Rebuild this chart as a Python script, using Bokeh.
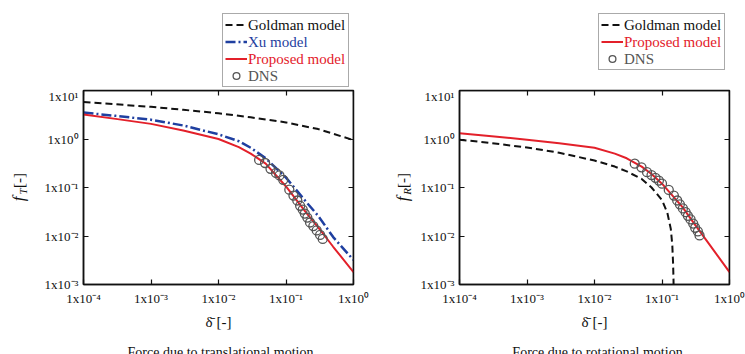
import math
from bokeh.plotting import figure
from bokeh.layouts import row, column
from bokeh.models import Legend, LegendItem, LogAxis, FixedTicker, Label, Range1d
from bokeh.embed import file_html
from bokeh.resources import INLINE

# ---------------- data ----------------
x_ticks = [1e-4, 1e-3, 1e-2, 1e-1, 1.0]
x_tick_labels = ["1x10⁻⁴", "1x10⁻³", "1x10⁻²", "1x10⁻¹", "1x10⁰"]
y_ticks = [1e-3, 1e-2, 1e-1, 1.0, 10.0]
y_tick_labels = ["1x10⁻³", "1x10⁻²", "1x10⁻¹", "1x10⁰", "1x10¹"]

# translational
goldman_T_x = [1e-4, 3e-4, 1e-3, 3e-3, 1e-2, 3e-2, 1e-1, 3e-1, 1.0]
goldman_T_y = [5.8, 5.2, 4.6, 4.0, 3.4, 2.8, 2.2, 1.6, 0.95]
xu_T_x = [1e-4, 3e-4, 1e-3, 3e-3, 1e-2, 2e-2, 3e-2, 5e-2, 1e-1, 2e-1, 3e-1, 5e-1, 1.0]
xu_T_y = [3.5, 3.0, 2.5, 1.9, 1.25, 0.9, 0.66, 0.4, 0.16, 0.05, 0.026, 0.0095, 0.0032]
prop_T_x = [1e-4, 3e-4, 1e-3, 3e-3, 1e-2, 2e-2, 3e-2, 5e-2, 1e-1, 2e-1, 3e-1, 5e-1, 1.0]
prop_T_y = [3.2, 2.6, 2.05, 1.5, 1.0, 0.68, 0.5, 0.31, 0.105, 0.03, 0.015, 0.006, 0.0018]
dns_T_x = [0.040, 0.049, 0.059, 0.071, 0.080, 0.091, 0.112, 0.129, 0.147, 0.162, 0.177,
           0.19, 0.207, 0.227, 0.254, 0.285, 0.32, 0.35]
dns_T_y = [0.37, 0.32, 0.243, 0.20, 0.177, 0.144, 0.09, 0.068, 0.054, 0.042, 0.035,
           0.029, 0.024, 0.019, 0.016, 0.013, 0.0105, 0.0087]

# rotational
goldman_R_x = [1e-4, 3e-4, 1e-3, 3e-3, 1e-2, 2e-2, 3e-2, 5e-2, 7e-2, 1e-1, 1.2e-1,
               1.35e-1, 1.42e-1, 1.46e-1, 1.48e-1, 1.49e-1, 1.495e-1]
goldman_R_y = [0.97, 0.82, 0.67, 0.52, 0.36, 0.27, 0.215, 0.15, 0.10, 0.055, 0.030,
               0.014, 0.0066, 0.0027, 0.0013, 0.0007, 0.0003]
prop_R_x = [1e-4, 3e-4, 1e-3, 3e-3, 1e-2, 2e-2, 3e-2, 5e-2, 7e-2, 1e-1, 2e-1, 3e-1, 5e-1, 1.0]
prop_R_y = [1.32, 1.14, 0.97, 0.82, 0.66, 0.5, 0.4, 0.27, 0.19, 0.12, 0.04, 0.018, 0.0068, 0.0018]
dns_R_x = [0.0395, 0.0497, 0.060, 0.070, 0.080, 0.090, 0.10, 0.126, 0.15, 0.168, 0.184,
           0.204, 0.224, 0.242, 0.265, 0.29, 0.31, 0.34, 0.36]
dns_R_y = [0.31, 0.26, 0.207, 0.18, 0.158, 0.139, 0.12, 0.089, 0.068, 0.054, 0.045,
           0.037, 0.031, 0.026, 0.022, 0.018, 0.0148, 0.0124, 0.0103]

series_T = {"Goldman model": (goldman_T_x, goldman_T_y), "Xu model": (xu_T_x, xu_T_y),
            "Proposed model": (prop_T_x, prop_T_y), "DNS": (dns_T_x, dns_T_y)}
series_R = {"Goldman model": (goldman_R_x, goldman_R_y),
            "Proposed model": (prop_R_x, prop_R_y), "DNS": (dns_R_x, dns_R_y)}

# ---------------- style ----------------
FONT = "Liberation Serif"
BLACK = "#111111"
BLUE = "#1f3fa0"
RED = "#e3202a"
GRAY = "#555555"

LEG_H = 88          # height of the legend strip (page y 0..88)
MAIN_TOP = 2
FRAME_H = 194
MAIN_BOTTOM = 50
MAIN_H = MAIN_TOP + FRAME_H + MAIN_BOTTOM   # page y 88..334
CAP_H = 354 - LEG_H - MAIN_H                # page y 334..354
FRAME_TOP_PAGE = LEG_H + MAIN_TOP           # 90
FRAME_BOTTOM_PAGE = FRAME_TOP_PAGE + FRAME_H  # 284

LEG_PAD = 2
LEG_ROW = 17
LEG_SP = 0
LEG_EXTRA = 2       # border adds to the drawn legend height

STYLES = {
    "Goldman model": dict(kind="line", color=BLACK, width=2, dash="7 4"),
    "Xu model": dict(kind="line", color=BLUE, width=2.5, dash="10 3 2 3"),
    "Proposed model": dict(kind="line", color=RED, width=2, dash="solid"),
    "DNS": dict(kind="circle", color=GRAY),
}


def draw(p, name, xs, ys):
    s = STYLES[name]
    if s["kind"] == "line":
        return p.line(xs, ys, line_color=s["color"], line_width=s["width"], line_dash=s["dash"])
    return p.scatter(xs, ys, marker="circle", size=9, fill_color=None,
                     line_color=s["color"], line_width=1.3)


def style_axis(ax, ticks, labels, show_labels=True):
    ax.ticker = FixedTicker(ticks=ticks)
    if show_labels:
        ax.major_label_overrides = {t: l for t, l in zip(ticks, labels)}
        ax.major_label_text_font_size = "13px"
    else:
        ax.major_label_overrides = {t: "" for t in ticks}
        ax.major_label_standoff = 0
        ax.major_label_text_font_size = "0px"
    ax.major_tick_in = 5
    ax.major_tick_out = 0
    ax.minor_tick_line_color = None
    ax.axis_line_color = BLACK
    ax.axis_line_width = 1.5
    ax.major_tick_line_color = BLACK
    ax.major_tick_line_width = 1.2
    ax.major_label_text_font = FONT
    ax.major_label_text_color = BLACK


def blank_fig(width, height, xr, yr):
    p = figure(width=width, height=height, output_backend="svg", toolbar_location=None,
               x_axis_location=None, y_axis_location=None, min_border=0,
               x_range=xr, y_range=yr)
    p.title.visible = False
    p.grid.visible = False
    p.outline_line_color = None
    p.background_fill_color = "white"
    p.border_fill_color = "white"
    return p


def make_main(width, bl, br):
    p = figure(width=width, height=MAIN_H, x_axis_type="log", y_axis_type="log",
               x_range=Range1d(1e-4, 1.0), y_range=Range1d(1e-3, 10.0),
               output_backend="svg", toolbar_location=None,
               min_border_left=bl, min_border_right=br,
               min_border_top=MAIN_TOP, min_border_bottom=MAIN_BOTTOM)
    p.title.visible = False
    p.background_fill_color = "white"
    p.border_fill_color = "white"
    p.outline_line_color = BLACK
    p.outline_line_width = 1.5
    p.xgrid.visible = False
    p.ygrid.visible = False
    style_axis(p.xaxis[0], x_ticks, x_tick_labels)
    p.xaxis[0].major_label_standoff = 6
    style_axis(p.yaxis[0], y_ticks, y_tick_labels)
    p.yaxis[0].major_label_standoff = 5
    p.xaxis[0].axis_label = "δ̄ [-]"
    p.xaxis[0].axis_label_text_font = FONT
    p.xaxis[0].axis_label_text_font_size = "15px"
    p.xaxis[0].axis_label_text_font_style = "normal"
    p.xaxis[0].axis_label_text_color = BLACK
    p.xaxis[0].axis_label_standoff = 5
    # inward ticks on the top and right edges of the frame
    top = LogAxis(fixed_location=y_ticks[-1])
    style_axis(top, x_ticks, x_tick_labels, show_labels=False)
    p.add_layout(top, "above")
    right = LogAxis(fixed_location=x_ticks[-1])
    style_axis(right, y_ticks, y_tick_labels, show_labels=False)
    p.add_layout(right, "right")
    return p


def ylabel_fig(width, sub, cx):
    # in a row with the main plot its frame is aligned to the main frame,
    # so map data y onto page y over the frame's vertical extent
    p = blank_fig(width, MAIN_H, Range1d(0, width),
                  Range1d(FRAME_BOTTOM_PAGE, FRAME_TOP_PAGE))
    def lab(text, x, page_y, size, style):
        p.add_layout(Label(x=x, y=page_y, text=text, angle=math.pi / 2,
                           text_font=FONT, text_font_size=size, text_font_style=style,
                           text_color=BLACK, text_align="center", text_baseline="middle"))
    lab("f", cx, 198.5, "17px", "italic")
    lab(sub, cx + 4, 191, "11px", "italic")
    lab("[-]", cx, 180, "15px", "normal")
    return p


def caption_fig(width, text, cx):
    p = blank_fig(width, CAP_H, Range1d(0, width), Range1d(CAP_H, 0))
    p.add_layout(Label(x=cx, y=344 - LEG_H - MAIN_H, text=text, text_font=FONT,
                       text_font_size="14px", text_color=BLACK,
                       text_baseline="top", text_align="center"))
    return p


def leg_common():
    return dict(padding=LEG_PAD, spacing=LEG_SP, glyph_width=22, glyph_height=LEG_ROW,
                label_height=LEG_ROW, label_standoff=2, margin=0,
                label_text_font=FONT, label_text_font_size="15px")


def legend_fig(width, series, lx, top_y):
    # series are drawn far outside the visible ranges: only their legend glyphs show
    p = blank_fig(width, LEG_H, Range1d(1e6, 2e6), Range1d(1e6, 2e6))
    names = list(series)
    rs = [draw(p, n, *series[n]) for n in names]
    n = len(names)
    box_h = 2 * LEG_PAD + n * LEG_ROW + (n - 1) * LEG_SP + LEG_EXTRA
    top = LEG_H - top_y
    p.add_layout(Legend(items=[LegendItem(label=nm, renderers=[r]) for nm, r in zip(names, rs)],
                        location=(lx, top - box_h), label_text_alpha=0,
                        border_line_color="#555555", border_line_width=1,
                        background_fill_color="white", background_fill_alpha=1,
                        **leg_common()))
    one_h = 2 * LEG_PAD + LEG_ROW + LEG_EXTRA
    for i, nm in enumerate(names):
        dummy = p.line(x=[], y=[], line_alpha=0)
        p.add_layout(Legend(items=[LegendItem(label=nm, renderers=[dummy])],
                            location=(lx, top - i * (LEG_ROW + LEG_SP) - one_h),
                            label_text_color=STYLES[nm]["color"], border_line_alpha=0,
                            background_fill_alpha=0, **leg_common()))
    return p


# ---------------- left: translational ----------------
main1 = make_main(340, 53, 17)
for nm, (xs, ys) in series_T.items():
    draw(main1, nm, xs, ys)
left = column(legend_fig(370, series_T, 222, 13),
              row(ylabel_fig(30, "T", 18), main1, spacing=0),
              caption_fig(370, "Force due to translational motion", 220),
              spacing=0)

# ---------------- right: rotational ----------------
main2 = make_main(330, 44, 16)
for nm, (xs, ys) in series_R.items():
    draw(main2, nm, xs, ys)
right_col = column(legend_fig(375, series_R, 228, 13),
                   row(ylabel_fig(45, "R", 32), main2, spacing=0),
                   caption_fig(375, "Force due to rotational motion", 227),
                   spacing=0)

layout = row(left, right_col, spacing=0)
open("out.html", "w").write(file_html(layout, INLINE))
